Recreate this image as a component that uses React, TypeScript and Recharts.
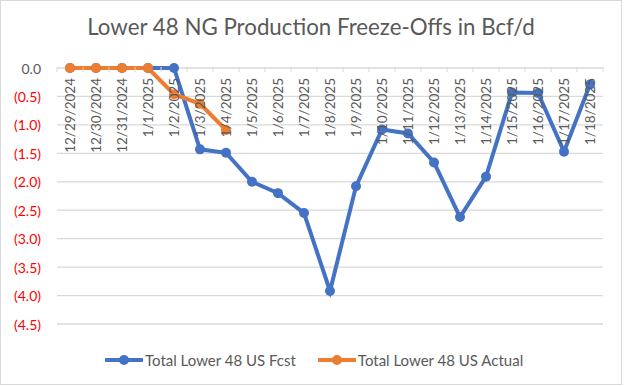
import React from "react";
import { CartesianGrid, Line, LineChart, XAxis, YAxis } from "recharts";

const dates = [
  "12/29/2024", "12/30/2024", "12/31/2024", "1/1/2025", "1/2/2025", "1/3/2025", "1/4/2025",
  "1/5/2025", "1/6/2025", "1/7/2025", "1/8/2025", "1/9/2025", "1/10/2025", "1/11/2025",
  "1/12/2025", "1/13/2025", "1/14/2025", "1/15/2025", "1/16/2025", "1/17/2025", "1/18/2025"
];
const fcst = [0, 0, 0, 0, 0, -1.43, -1.49, -2.0, -2.2, -2.55, -3.92, -2.08, -1.08, -1.15, -1.66, -2.62, -1.91, -0.43, -0.44, -1.47, -0.29];
const actual: (number | null)[] = [0, 0, 0, 0, -0.46, -0.63, -1.09, null, null, null, null, null, null, null, null, null, null, null, null, null, null];
const yTicks = [0, -0.5, -1, -1.5, -2, -2.5, -3, -3.5, -4, -4.5];

const data = dates.map((d, i) => ({ date: d, fcst: fcst[i], actual: actual[i] }));

const FONT = "Lato, 'Noto Sans', sans-serif";
const GREY = "#595959";
const BLUE = "#4472c4";
const ORANGE = "#ed7d31";
const W = 620;
const H = 383;
const M = { top: 66, right: 18, left: 0, bottom: 60 };
const Y_W = 56;
const BAND = (W - M.left - M.right - Y_W) / dates.length;

const fmt = (v: number) => (v === 0 ? "0.0" : `(${Math.abs(v).toFixed(1)})`);

function YTick({ x, y, payload }: any) {
  const v = payload.value as number;
  return (
    <text x={x} y={y} textAnchor="end" dominantBaseline="central" fontSize={14} fontFamily={FONT} fill={v < 0 ? "#ff0000" : GREY}>
      {fmt(v)}
    </text>
  );
}

function XTick({ x, payload }: any) {
  const top = M.top;
  return (
    <g>
      <line x1={x + BAND / 2} x2={x + BAND / 2} y1={top} y2={top + 5} stroke="#d9d9d9" />
      {payload.index === 0 && <line x1={x - BAND / 2} x2={x - BAND / 2} y1={top} y2={top + 5} stroke="#d9d9d9" />}
      <text
        transform={`translate(${x},${top + 11}) rotate(-90)`}
        textAnchor="end"
        dominantBaseline="central"
        fontSize={13.5}
        fontFamily={FONT}
        fill={GREY}
      >
        {payload.value}
      </text>
    </g>
  );
}

function LegendItem({ color, label }: { color: string; label: string }) {
  return (
    <span style={{ display: "inline-flex", alignItems: "center" }}>
      <svg width={40} height={12}>
        <line x1={1} x2={39} y1={6} y2={6} stroke={color} strokeWidth={4} />
        <circle cx={20} cy={6} r={5} fill={color} />
      </svg>
      <span style={{ marginLeft: 1, marginRight: 21 }}>{label}</span>
    </span>
  );
}

export default function App() {
  document.body.style.margin = "0";
  return (
    <div style={{ position: "relative", width: W, height: H, border: "1px solid #d9d9d9", background: "#fff", fontFamily: FONT }}>
      <div style={{ position: "absolute", top: 12, left: 0, width: W, textAlign: "center", fontSize: 22.3, color: GREY }}>
        Lower 48 NG Production Freeze-Offs in Bcf/d
      </div>
      <LineChart width={W} height={H} data={data} margin={M}>
        <CartesianGrid horizontal vertical={false} stroke="#d9d9d9" strokeWidth={1.3} />
        <XAxis
          dataKey="date"
          orientation="top"
          height={1}
          axisLine={false}
          tickLine={false}
          interval={0}
          padding={{ left: BAND / 2, right: BAND / 2 }}
          tick={<XTick />}
        />
        <YAxis
          width={Y_W}
          domain={[-4.5, 0]}
          ticks={yTicks}
          axisLine={false}
          tickLine={false}
          tickMargin={10}
          tick={<YTick />}
        />
        <Line
          dataKey="fcst"
          stroke={BLUE}
          strokeWidth={4}
          dot={{ r: 5, fill: BLUE, stroke: BLUE, strokeWidth: 0 }}
          isAnimationActive={false}
        />
        <Line
          dataKey="actual"
          stroke={ORANGE}
          strokeWidth={4}
          dot={{ r: 5, fill: ORANGE, stroke: ORANGE, strokeWidth: 0 }}
          isAnimationActive={false}
        />
      </LineChart>
      <div style={{ position: "absolute", top: 350, left: 103, display: "flex", fontSize: 15, color: GREY }}>
        <LegendItem color={BLUE} label="Total Lower 48 US Fcst" />
        <LegendItem color={ORANGE} label="Total Lower 48 US Actual" />
      </div>
    </div>
  );
}
